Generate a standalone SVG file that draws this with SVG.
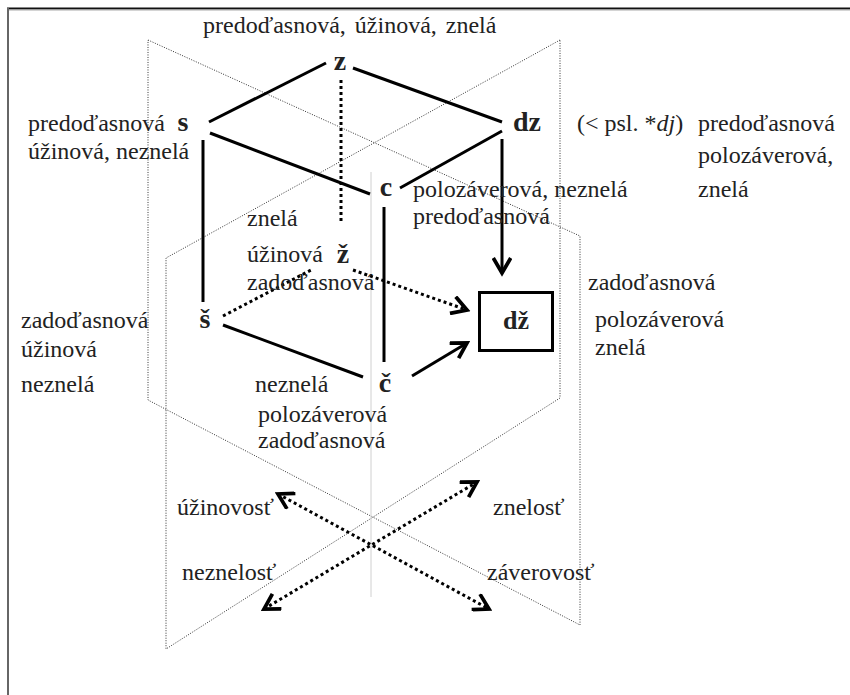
<svg xmlns="http://www.w3.org/2000/svg" width="850" height="695" viewBox="0 0 850 695">
  <defs>
    <style>
      .lbl { font-family: "Liberation Serif", "Times New Roman", serif; font-size: 24px; fill: #222; }
      .node { font-family: "Liberation Serif", "Times New Roman", serif; font-size: 28px; font-weight: bold; fill: #222; text-anchor: middle; }
      .plane { fill: none; stroke: #333; stroke-width: 1; stroke-dasharray: 1 1.5; }
      .solid { fill: none; stroke: #000; stroke-width: 3; }
      .dot { fill: none; stroke: #000; stroke-width: 3; stroke-dasharray: 3 3; }
    </style>
    <marker id="chev" markerUnits="userSpaceOnUse" markerWidth="20" markerHeight="20" refX="13" refY="8" orient="auto-start-reverse" viewBox="0 0 16 16">
      <path d="M1,1 L13,8 L1,15" fill="none" stroke="#000" stroke-width="3" stroke-linejoin="miter"/>
    </marker>
  </defs>

  <rect width="850" height="695" fill="#fff"/>

  <!-- page frame -->
  <g id="frame">
    <line x1="7" y1="8.5" x2="850" y2="8.5" stroke="#111" stroke-width="2"/>
    <line x1="7" y1="10" x2="850" y2="10" stroke="#aaa" stroke-width="1"/>
    <line x1="8" y1="8" x2="8" y2="695" stroke="#666" stroke-width="2"/>
  </g>

  <!-- the two crossing planes and the axis -->
  <g id="planes">
    <polygon class="plane" points="148,40 580,236 580,625 148,400"/>
    <polygon class="plane" points="560,40 166,258 166,649 560,398"/>
    <line x1="371" y1="172" x2="371" y2="597" stroke="#d0d0d0" stroke-width="1"/>
  </g>

  <!-- connectors -->
  <g id="connectors">
    <line class="solid" x1="209" y1="122" x2="326" y2="63"/>
    <line class="solid" x1="353" y1="68" x2="502" y2="122"/>
    <line class="solid" x1="210" y1="133" x2="370" y2="194"/>
    <line class="solid" x1="502" y1="131" x2="400" y2="188"/>
    <line class="solid" x1="203" y1="140" x2="203" y2="302"/>
    <line class="dot" x1="341" y1="80" x2="341" y2="223"/>
    <line class="solid" x1="502" y1="139" x2="502" y2="273" marker-end="url(#chev)"/>
    <line class="solid" x1="384" y1="207" x2="384" y2="362"/>
    <line class="dot" x1="223" y1="316" x2="313" y2="269"/>
    <line class="dot" x1="353" y1="270" x2="467" y2="310" marker-end="url(#chev)"/>
    <line class="solid" x1="223" y1="325" x2="363" y2="377"/>
    <line class="solid" x1="412" y1="376" x2="467" y2="343" marker-end="url(#chev)"/>
    <line class="dot" x1="278" y1="494" x2="489" y2="609" marker-start="url(#chev)" marker-end="url(#chev)"/>
    <line class="dot" x1="264" y1="609" x2="477" y2="482" marker-start="url(#chev)" marker-end="url(#chev)"/>
  </g>

  <!-- nodes -->
  <g id="node-z"><text class="node" x="340" y="70">z</text></g>
  <g id="node-s"><text class="node" x="183" y="131">s</text></g>
  <g id="node-dz"><text class="node" x="527" y="131">dz</text></g>
  <g id="node-c"><text class="node" x="386" y="196">c</text></g>
  <g id="node-zh"><text class="node" x="343" y="263">ž</text></g>
  <g id="node-sh"><text class="node" x="205" y="328">š</text></g>
  <g id="node-ch"><text class="node" x="385" y="392">č</text></g>
  <g id="node-dzh">
    <rect x="479.5" y="292.5" width="73" height="58" fill="#fff" stroke="#000" stroke-width="3"/>
    <text class="node" x="516" y="329" style="font-size:26px">dž</text>
  </g>

  <!-- feature labels -->
  <g id="labels">
    <text class="lbl" x="203" y="33" word-spacing="3">predoďasnová, úžinová, znelá</text>
    <text class="lbl" x="28" y="131">predoďasnová</text>
    <text class="lbl" x="28" y="159">úžinová, neznelá</text>
    <text class="lbl" x="577" y="131">(&lt; psl. *<tspan font-style="italic">dj</tspan>)</text>
    <text class="lbl" x="698" y="131">predoďasnová</text>
    <text class="lbl" x="698" y="163">polozáverová,</text>
    <text class="lbl" x="698" y="197">znelá</text>
    <text class="lbl" x="413" y="197">polozáverová, neznelá</text>
    <text class="lbl" x="413" y="224">predoďasnová</text>
    <text class="lbl" x="247" y="226">znelá</text>
    <text class="lbl" x="247" y="262">úžinová</text>
    <text class="lbl" x="247" y="290">zadoďasnová</text>
    <text class="lbl" x="21" y="328">zadoďasnová</text>
    <text class="lbl" x="21" y="357">úžinová</text>
    <text class="lbl" x="21" y="392">neznelá</text>
    <text class="lbl" x="255" y="392">neznelá</text>
    <text class="lbl" x="258" y="422">polozáverová</text>
    <text class="lbl" x="258" y="448">zadoďasnová</text>
    <text class="lbl" x="588" y="290">zadoďasnová</text>
    <text class="lbl" x="595" y="327">polozáverová</text>
    <text class="lbl" x="595" y="355">znelá</text>
    <text class="lbl" x="177" y="515">úžinovosť</text>
    <text class="lbl" x="493" y="515">znelosť</text>
    <text class="lbl" x="182" y="580">neznelosť</text>
    <text class="lbl" x="487" y="580">záverovosť</text>
  </g>
</svg>
